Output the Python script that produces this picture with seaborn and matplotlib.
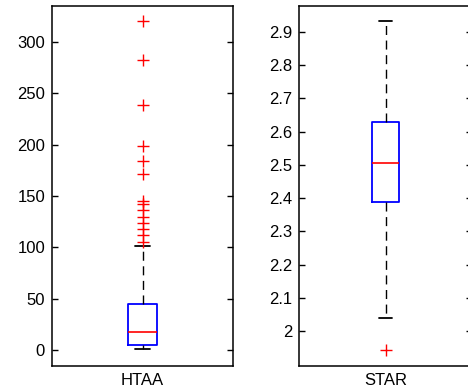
import numpy as np
import pandas as pd
import matplotlib
matplotlib.use("Agg")
import matplotlib.pyplot as plt
from matplotlib.ticker import FuncFormatter
import seaborn as sns

htaa = [1, 1, 1, 2, 2, 2, 2, 3, 3, 3, 3, 4, 4, 4, 4, 5, 5, 5,
        6, 6, 7, 8, 8, 9, 10, 10, 11, 12, 13, 14, 15, 16, 17, 17, 18,
        19, 20, 21, 22, 24, 25, 27, 28, 30, 31, 33, 35, 37, 39, 41, 43, 45,
        55, 72, 101.5,
        105.5, 112, 118, 124, 130, 136, 142, 145, 171, 184, 199, 239, 282, 320]
star = [1.944, 2.040, 2.15, 2.24, 2.31, 2.388, 2.42, 2.45, 2.47, 2.49, 2.506,
        2.53, 2.55, 2.58, 2.60, 2.629, 2.66, 2.71, 2.77, 2.85, 2.934]

htaa_ticks = [0, 50, 100, 150, 200, 250, 300]
star_ticks = [2.0, 2.1, 2.2, 2.3, 2.4, 2.5, 2.6, 2.7, 2.8, 2.9]

sns.set_style("ticks")
plt.rcParams['font.family'] = ['Liberation Sans', 'DejaVu Sans']

fig = plt.figure(figsize=(4.68, 3.9), dpi=100)
ax1 = fig.add_axes([52 / 468, 1 - 366 / 390, 181 / 468, 360 / 390])
ax2 = fig.add_axes([299 / 468, 1 - 366 / 390, 173 / 468, 360 / 390])

box_kws = dict(
    fill=False, width=0.155, whis=1.5, linecolor="black", linewidth=1.0,
    boxprops=dict(color="blue", linewidth=1.3),
    medianprops=dict(color="red", linewidth=1.2),
    whiskerprops=dict(color="black", linewidth=1.0, linestyle=(0, (6.5, 4))),
    capprops=dict(color="black", linewidth=1.3),
    flierprops=dict(marker="+", markersize=9, markeredgecolor="red",
                    markeredgewidth=1.0, markerfacecolor="none"),
)

sns.boxplot(x=["HTAA"] * len(htaa), y=htaa, ax=ax1, **box_kws)
sns.boxplot(x=["STAR"] * len(star), y=star, ax=ax2, **box_kws)

ax1.set_ylim(-15.5, 335)
ax1.set_yticks(htaa_ticks)
ax2.set_ylim(1.895, 2.978)
ax2.set_yticks(star_ticks)
ax2.yaxis.set_major_formatter(FuncFormatter(lambda v, p: "%g" % round(v, 2)))

for ax in (ax1, ax2):
    ax.set_xlim(-0.5, 0.5)
    ax.set_xlabel("")
    ax.set_ylabel("")
    ax.tick_params(axis="y", direction="in", length=4, width=1, right=True,
                   labelsize=12, pad=5, colors="black")
    ax.tick_params(axis="x", length=0, labelsize=12, pad=5, colors="black")
    for s in ax.spines.values():
        s.set_visible(True)
        s.set_linewidth(1.1)
        s.set_color("black")

fig.savefig("out.png", dpi=100)
